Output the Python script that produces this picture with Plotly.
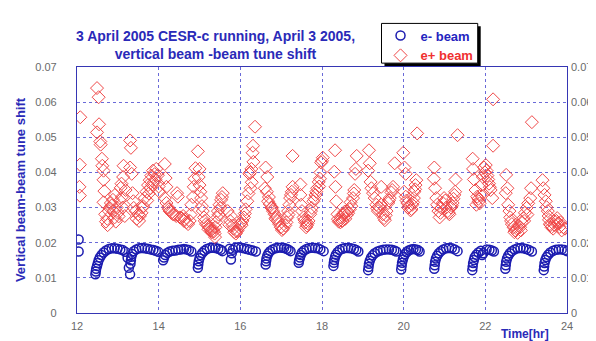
import plotly.graph_objects as go

# ---------------- data ----------------
# e- beam : time [hr] and vertical beam-beam tune shift
eminus_time = [
    12.04, 12.04,
    12.45, 12.46, 12.47, 12.49, 12.51, 12.53, 12.56, 12.60, 12.65, 12.71, 12.78, 12.85, 12.92, 12.99, 13.06, 13.12, 13.18,
    13.24, 13.27, 13.30, 13.31, 13.32, 13.33, 13.35, 13.39, 13.45, 13.52, 13.59, 13.66, 13.73, 13.80, 13.87, 13.93, 13.99,
    14.11, 14.13, 14.16, 14.21, 14.27, 14.34, 14.41, 14.48, 14.55, 14.62, 14.68, 14.74, 14.80,
    14.96, 14.97, 14.98, 15.00, 15.03, 15.07, 15.12, 15.18, 15.25, 15.32, 15.39, 15.46, 15.52, 15.56,
    15.74, 15.77, 15.79, 15.82, 15.88, 15.95, 16.02, 16.09, 16.16, 16.23, 16.30, 16.38,
    16.62, 16.63, 16.64, 16.66, 16.69, 16.73, 16.79, 16.86, 16.93, 17.00, 17.07, 17.13, 17.18, 17.23,
    17.43, 17.44, 17.46, 17.48, 17.51, 17.56, 17.62, 17.69, 17.76, 17.83, 17.90, 17.96, 18.04,
    18.28, 18.29, 18.30, 18.32, 18.34, 18.38, 18.43, 18.50, 18.57, 18.64, 18.71, 18.78, 18.84, 18.89,
    19.13, 19.14, 19.15, 19.17, 19.20, 19.24, 19.29, 19.36, 19.43, 19.50, 19.57, 19.64, 19.71, 19.77, 19.82,
    19.94, 19.95, 19.96, 19.98, 20.00, 20.03, 20.07, 20.12, 20.18, 20.24, 20.30, 20.35, 20.39,
    20.75, 20.76, 20.77, 20.79, 20.82, 20.86, 20.91, 20.97, 21.04, 21.11, 21.18, 21.25, 21.32,
    21.68, 21.69, 21.70, 21.72, 21.74, 21.78, 21.83, 21.89, 21.92, 21.95, 22.03, 22.10, 22.16, 22.21,
    22.49, 22.50, 22.51, 22.53, 22.56, 22.60, 22.65, 22.72, 22.79, 22.86, 22.93, 23.00, 23.07, 23.14,
    23.43, 23.44, 23.45, 23.47, 23.50, 23.54, 23.59, 23.66, 23.73, 23.80, 23.87, 23.94, 24.00,
]
eminus_shift = [
    0.0209, 0.0175,
    0.0110, 0.0118, 0.0126, 0.0134, 0.0142, 0.0150, 0.0158, 0.0165, 0.0172, 0.0178, 0.0182, 0.0184, 0.0184, 0.0183, 0.0181, 0.0179, 0.0174,
    0.0157, 0.0129, 0.0110, 0.0140, 0.0150, 0.0160, 0.0168, 0.0176, 0.0181, 0.0184, 0.0185, 0.0184, 0.0183, 0.0181, 0.0179, 0.0177, 0.0174,
    0.0150, 0.0158, 0.0165, 0.0171, 0.0175, 0.0177, 0.0178, 0.0180, 0.0181, 0.0182, 0.0181, 0.0179, 0.0175,
    0.0129, 0.0138, 0.0147, 0.0156, 0.0164, 0.0171, 0.0177, 0.0182, 0.0185, 0.0186, 0.0185, 0.0183, 0.0180, 0.0176,
    0.0183, 0.0152, 0.0170, 0.0180, 0.0186, 0.0187, 0.0186, 0.0184, 0.0182, 0.0180, 0.0178, 0.0175,
    0.0138, 0.0147, 0.0155, 0.0163, 0.0170, 0.0176, 0.0181, 0.0184, 0.0186, 0.0186, 0.0185, 0.0183, 0.0180, 0.0176,
    0.0143, 0.0150, 0.0158, 0.0165, 0.0172, 0.0178, 0.0182, 0.0185, 0.0186, 0.0185, 0.0184, 0.0181, 0.0176,
    0.0134, 0.0143, 0.0151, 0.0159, 0.0166, 0.0173, 0.0179, 0.0183, 0.0185, 0.0185, 0.0184, 0.0182, 0.0179, 0.0175,
    0.0122, 0.0131, 0.0140, 0.0149, 0.0157, 0.0164, 0.0170, 0.0175, 0.0178, 0.0180, 0.0181, 0.0181, 0.0180, 0.0178, 0.0175,
    0.0124, 0.0134, 0.0143, 0.0152, 0.0160, 0.0167, 0.0173, 0.0178, 0.0181, 0.0182, 0.0181, 0.0179, 0.0175,
    0.0126, 0.0136, 0.0146, 0.0155, 0.0163, 0.0170, 0.0176, 0.0181, 0.0184, 0.0185, 0.0184, 0.0181, 0.0176,
    0.0122, 0.0132, 0.0142, 0.0151, 0.0159, 0.0166, 0.0172, 0.0177, 0.0165, 0.0170, 0.0181, 0.0180, 0.0178, 0.0175,
    0.0126, 0.0136, 0.0146, 0.0155, 0.0163, 0.0170, 0.0176, 0.0181, 0.0184, 0.0185, 0.0184, 0.0182, 0.0179, 0.0175,
    0.0122, 0.0132, 0.0142, 0.0151, 0.0159, 0.0166, 0.0172, 0.0177, 0.0180, 0.0181, 0.0181, 0.0179, 0.0176,
]

# e+ beam : time [hr] and vertical beam-beam tune shift
eplus_time = [
    12.08, 12.07, 12.06, 12.07,
    12.49, 12.53, 12.54, 12.49, 12.57, 12.58, 12.61, 12.62, 12.65, 12.65, 12.67, 12.65, 12.69, 12.71, 12.74, 12.75,
    12.78, 12.80, 12.83, 12.85, 12.88, 12.90, 12.92, 12.93, 12.97, 13.00, 13.02, 13.07, 13.09, 13.13, 13.14, 13.10,
    13.17, 13.19, 13.05, 12.95, 13.12,
    13.30, 13.32, 13.30, 13.34, 13.36, 13.38, 13.39, 13.44, 13.50, 13.54, 13.58, 13.62, 13.66, 13.70, 13.74, 13.78,
    13.82, 13.86, 13.90, 13.94, 13.98, 14.00, 14.02, 13.72, 13.80, 13.88, 13.46, 13.52, 13.60, 13.76, 13.92, 13.84,
    14.15, 14.17, 14.19, 14.15, 14.19, 14.23, 14.27, 14.35, 14.43, 14.47, 14.45, 14.52, 14.60, 14.64, 14.72, 14.76,
    14.80, 14.84, 14.86, 14.88, 14.90, 14.31, 14.39, 14.56, 14.68, 14.78, 14.25, 14.62,
    14.96, 15.00, 14.98, 15.00, 15.02, 15.04, 15.06, 15.08, 15.11, 15.16, 15.20, 15.24, 15.28, 15.32, 15.37, 15.38,
    15.39, 15.41, 15.44, 15.45, 15.49, 15.53, 15.57, 15.51, 15.13, 15.22, 15.30, 15.35, 15.47, 15.55,
    15.69, 15.77, 15.73, 15.81, 15.85, 15.89, 15.93, 15.97, 16.01, 16.05, 16.09, 16.13, 16.17, 16.20, 16.22, 16.24,
    16.27, 16.30, 16.32, 16.31, 16.36, 16.28, 16.25, 15.75, 15.83, 15.91, 16.03, 16.11,
    16.62, 16.66, 16.60, 16.65, 16.68, 16.72, 16.76, 16.80, 16.84, 16.88, 16.92, 16.95, 16.99, 17.05, 17.10, 17.13,
    17.15, 17.17, 17.20, 17.22, 17.26, 17.28, 17.28, 16.70, 16.78, 16.86, 17.02, 17.18, 17.24,
    17.47, 17.47, 17.49, 17.51, 17.55, 17.59, 17.63, 17.67, 17.71, 17.75, 17.79, 17.84, 17.88, 17.92, 17.96, 18.00,
    18.02, 17.98, 17.95, 17.93, 17.65, 17.73, 17.81, 17.86, 17.57, 17.61,
    18.32, 18.30, 18.33, 18.35, 18.38, 18.39, 18.41, 18.44, 18.47, 18.52, 18.55, 18.60, 18.64, 18.68, 18.72, 18.76,
    18.79, 18.81, 18.83, 18.85, 18.50, 18.57, 18.45, 18.62, 18.70, 18.78,
    19.15, 19.17, 19.13, 19.19, 19.21, 19.25, 19.29, 19.33, 19.37, 19.45, 19.45, 19.49, 19.54, 19.58, 19.62, 19.66,
    19.70, 19.74, 19.78, 19.41, 19.52, 19.56, 19.64, 19.72, 19.35,
    19.99, 20.02, 20.05, 20.01, 20.05, 20.09, 20.13, 20.17, 20.21, 20.25, 20.26, 20.29, 20.31, 20.33, 20.11, 20.19,
    20.23, 20.28, 20.07,
    20.75, 20.74, 20.77, 20.80, 20.82, 20.85, 20.88, 20.92, 20.96, 20.99, 21.04, 21.08, 21.12, 21.16, 21.20, 21.24,
    21.26, 21.27, 21.32, 20.90, 21.02, 21.10, 21.18, 21.22,
    21.69, 21.70, 21.72, 21.76, 21.80, 21.84, 21.78, 21.83, 21.89, 21.91, 21.94, 21.97, 22.01, 22.05, 22.09, 22.13,
    22.17, 22.19, 22.19, 21.86, 21.99, 22.03, 22.07, 22.11,
    22.51, 22.54, 22.50, 22.56, 22.59, 22.61, 22.65, 22.69, 22.73, 22.77, 22.81, 22.85, 22.89, 22.93, 22.97, 23.01,
    23.05, 23.10, 23.12, 23.14, 22.63, 22.71, 22.79, 22.87, 22.95, 23.03,
    23.40, 23.42, 23.45, 23.48, 23.50, 23.53, 23.55, 23.56, 23.58, 23.62, 23.66, 23.70, 23.74, 23.78, 23.82, 23.87,
    23.91, 23.95, 23.60, 23.68, 23.76, 23.84,
]
eplus_shift = [
    0.0557, 0.0422, 0.0359, 0.0334,
    0.0640, 0.0614, 0.0537, 0.0514, 0.0488, 0.0479, 0.0439, 0.0419, 0.0405, 0.0379, 0.0347, 0.0315, 0.0281, 0.0260, 0.0268, 0.0250,
    0.0290, 0.0299, 0.0313, 0.0306, 0.0322, 0.0290, 0.0272, 0.0336, 0.0300, 0.0285, 0.0275, 0.0356, 0.0368, 0.0387, 0.0419, 0.0330,
    0.0276, 0.0350, 0.0320, 0.0260, 0.0300,
    0.0491, 0.0470, 0.0414, 0.0396, 0.0341, 0.0318, 0.0299, 0.0290, 0.0281, 0.0276, 0.0285, 0.0304, 0.0327, 0.0345, 0.0364, 0.0378,
    0.0391, 0.0405, 0.0395, 0.0410, 0.0392, 0.0360, 0.0345, 0.0320, 0.0355, 0.0372, 0.0268, 0.0262, 0.0300, 0.0340, 0.0380, 0.0365,
    0.0424, 0.0384, 0.0359, 0.0327, 0.0313, 0.0301, 0.0290, 0.0281, 0.0276, 0.0331, 0.0341, 0.0272, 0.0276, 0.0267, 0.0253, 0.0262,
    0.0308, 0.0330, 0.0359, 0.0382, 0.0412, 0.0285, 0.0280, 0.0270, 0.0258, 0.0280, 0.0295, 0.0262,
    0.0460, 0.0410, 0.0387, 0.0364, 0.0345, 0.0327, 0.0304, 0.0290, 0.0272, 0.0253, 0.0249, 0.0244, 0.0235, 0.0240, 0.0226, 0.0216,
    0.0244, 0.0258, 0.0272, 0.0290, 0.0308, 0.0322, 0.0341, 0.0299, 0.0262, 0.0238, 0.0230, 0.0232, 0.0280, 0.0330,
    0.0290, 0.0276, 0.0251, 0.0249, 0.0230, 0.0226, 0.0235, 0.0244, 0.0255, 0.0262, 0.0272, 0.0295, 0.0318, 0.0340, 0.0396, 0.0400,
    0.0410, 0.0456, 0.0430, 0.0476, 0.0530, 0.0372, 0.0355, 0.0262, 0.0240, 0.0232, 0.0250, 0.0283,
    0.0414, 0.0387, 0.0355, 0.0345, 0.0318, 0.0310, 0.0299, 0.0290, 0.0281, 0.0272, 0.0262, 0.0253, 0.0244, 0.0240, 0.0249, 0.0258,
    0.0272, 0.0290, 0.0308, 0.0327, 0.0345, 0.0359, 0.0447, 0.0330, 0.0300, 0.0268, 0.0236, 0.0280, 0.0336,
    0.0366, 0.0336, 0.0308, 0.0290, 0.0272, 0.0258, 0.0249, 0.0262, 0.0281, 0.0299, 0.0318, 0.0336, 0.0355, 0.0373, 0.0400, 0.0433,
    0.0442, 0.0428, 0.0382, 0.0360, 0.0255, 0.0290, 0.0325, 0.0345, 0.0265, 0.0244,
    0.0463, 0.0402, 0.0359, 0.0318, 0.0281, 0.0267, 0.0260, 0.0264, 0.0272, 0.0281, 0.0288, 0.0278, 0.0284, 0.0295, 0.0304, 0.0327,
    0.0350, 0.0396, 0.0410, 0.0447, 0.0262, 0.0268, 0.0258, 0.0290, 0.0315, 0.0340,
    0.0463, 0.0426, 0.0405, 0.0373, 0.0355, 0.0341, 0.0327, 0.0308, 0.0290, 0.0308, 0.0359, 0.0281, 0.0264, 0.0290, 0.0313, 0.0327,
    0.0343, 0.0359, 0.0426, 0.0300, 0.0270, 0.0278, 0.0320, 0.0350, 0.0298,
    0.0456, 0.0414, 0.0396, 0.0345, 0.0331, 0.0313, 0.0304, 0.0292, 0.0308, 0.0327, 0.0345, 0.0364, 0.0378, 0.0511, 0.0300, 0.0296,
    0.0315, 0.0352, 0.0320,
    0.0414, 0.0382, 0.0355, 0.0327, 0.0308, 0.0290, 0.0272, 0.0299, 0.0313, 0.0327, 0.0300, 0.0290, 0.0281, 0.0300, 0.0313, 0.0336,
    0.0345, 0.0380, 0.0506, 0.0285, 0.0320, 0.0285, 0.0305, 0.0325,
    0.0439, 0.0410, 0.0380, 0.0350, 0.0331, 0.0318, 0.0308, 0.0325, 0.0336, 0.0364, 0.0387, 0.0414, 0.0421, 0.0391, 0.0368, 0.0350,
    0.0327, 0.0608, 0.0476, 0.0312, 0.0400, 0.0405, 0.0380, 0.0358,
    0.0393, 0.0355, 0.0341, 0.0308, 0.0290, 0.0272, 0.0253, 0.0244, 0.0235, 0.0240, 0.0249, 0.0244, 0.0258, 0.0270, 0.0285, 0.0299,
    0.0312, 0.0327, 0.0355, 0.0543, 0.0262, 0.0230, 0.0228, 0.0235, 0.0262, 0.0280,
    0.0378, 0.0355, 0.0336, 0.0318, 0.0301, 0.0290, 0.0276, 0.0265, 0.0253, 0.0244, 0.0240, 0.0250, 0.0262, 0.0255, 0.0245, 0.0235,
    0.0244, 0.0240, 0.0250, 0.0262, 0.0270, 0.0258,
]

x_ticks = [12, 14, 16, 18, 20, 22, 24]
y_ticks = [0, 0.01, 0.02, 0.03, 0.04, 0.05, 0.06, 0.07]
y_tick_labels = ["0", "0.01", "0.02", "0.03", "0.04", "0.05", "0.06", "0.07"]

# ---------------- figure ----------------
BLUE = "#1c1cb0"
RED = "#f04848"
AXIS = "#3636b4"
GRID = "#6a6ad8"
TXT_BLUE = "#2a2ab8"
FONT = "Liberation Sans, Arial, sans-serif"

fig = go.Figure()
fig.add_trace(go.Scatter(
    x=eminus_time, y=eminus_shift, mode="markers",
    name="<b><span style='color:#2424c0'>e- beam</span></b>",
    marker=dict(symbol="circle-open", size=9, color=BLUE, line=dict(width=1.5, color=BLUE)),
))
fig.add_trace(go.Scatter(
    x=eplus_time, y=eplus_shift, mode="markers",
    name="<b><span style='color:#f03030'>e+ beam</span></b>",
    marker=dict(symbol="diamond-open", size=10, color=RED, line=dict(width=1, color=RED)),
))
# invisible trace to carry the right-hand axis
fig.add_trace(go.Scatter(x=[x_ticks[0]], y=[y_ticks[0]], yaxis="y2", mode="markers",
                         marker=dict(opacity=0), showlegend=False, hoverinfo="skip"))

W, H = 596, 341
ml, mr, mt, mb = 66, 36, 51, 36
pw, ph = W - ml - mr, H - mt - mb

def px(x):
    return (x - ml) / pw

def py(y):
    return (H - mb - y) / ph

fig.update_layout(
    width=W, height=H,
    margin=dict(l=ml, r=mr, t=mt, b=mb),
    paper_bgcolor="white", plot_bgcolor="white",
    font=dict(family=FONT, size=11, color="#6a6a6a"),
    showlegend=True,
    legend=dict(
        x=px(372), y=py(3), xanchor="left", yanchor="top",
        bgcolor="rgba(0,0,0,0)", borderwidth=0,
        font=dict(family=FONT, size=13, color=BLUE),
        itemwidth=30,
    ),
    xaxis=dict(
        range=[12, 24], tickvals=x_ticks, ticktext=[str(v) for v in x_ticks],
        showgrid=True, gridcolor=GRID, griddash="dot", gridwidth=1,
        showline=True, linecolor=AXIS, linewidth=1.2, mirror=True,
        zeroline=False, ticks="", tickfont=dict(size=11, color="#6a6a6a"),
        ticklabelstandoff=3,
    ),
    yaxis=dict(
        range=[0, 0.07], tickvals=y_ticks, ticktext=y_tick_labels,
        showgrid=True, gridcolor=GRID, griddash="dot", gridwidth=1,
        showline=True, linecolor=AXIS, linewidth=1.2, mirror=True,
        zeroline=False, ticks="", tickfont=dict(size=11, color="#6a6a6a"),
        ticklabelstandoff=17,
        title=dict(text="<b>Vertical beam-beam tune shift</b>",
                   font=dict(family=FONT, size=13, color=TXT_BLUE), standoff=6),
    ),
    yaxis2=dict(
        range=[0, 0.07], tickvals=y_ticks, ticktext=y_tick_labels,
        overlaying="y", side="right", showgrid=False, zeroline=False,
        showline=False, ticks="", tickfont=dict(size=11, color="#6a6a6a"),
        ticklabelstandoff=3,
    ),
    annotations=[
        dict(text="<b>3 April 2005 CESR-c running, April 3 2005,<br>vertical beam -beam tune shift</b>",
             xref="paper", yref="paper", x=px(206), y=py(28), xanchor="center", yanchor="middle",
             showarrow=False, align="center",
             font=dict(family=FONT, size=14, color=TXT_BLUE)),
        dict(text="<b>Time[hr]</b>", xref="paper", yref="paper",
             x=px(544), y=py(327), xanchor="right", yanchor="middle", showarrow=False,
             font=dict(family=FONT, size=12, color=TXT_BLUE)),
    ],
    shapes=[
        # legend box shadow and frame
        dict(type="rect", xref="paper", yref="paper",
             x0=px(376), x1=px(473), y0=py(50), y1=py(9),
             fillcolor="black", line=dict(width=0), layer="above"),
        dict(type="rect", xref="paper", yref="paper",
             x0=px(373), x1=px(470), y0=py(47), y1=py(6),
             fillcolor="white", line=dict(width=1, color="black"), layer="above"),
    ],
)

fig.write_html("out.html")
